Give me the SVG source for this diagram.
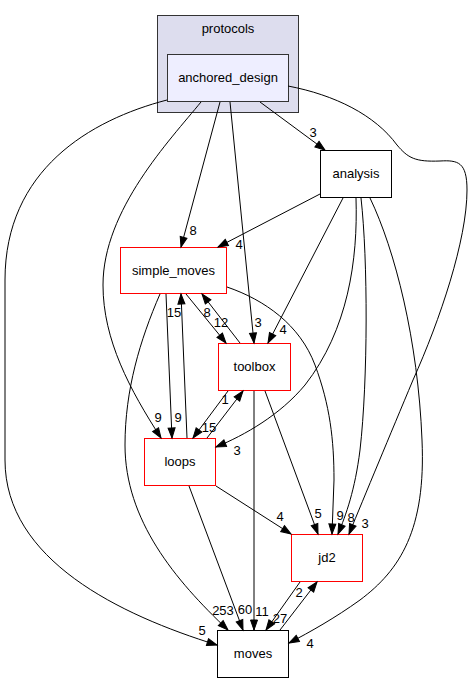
<svg xmlns="http://www.w3.org/2000/svg" width="473" height="684" viewBox="0 0 473 684">
<style>
text{font-family:"Liberation Sans",Arial,sans-serif;font-size:13px;fill:#000}
.n{text-anchor:middle}
.e path{fill:none;stroke:#000;stroke-width:1;marker-end:url(#ah)}
.red{fill:#fff;stroke:#ff0000;stroke-width:1}
.blk{fill:#fff;stroke:#000;stroke-width:1}
.lbl{text-anchor:middle}
</style>
<defs>
<marker id="ah" viewBox="0 0 10 7" refX="10" refY="3.5" markerWidth="10" markerHeight="7" markerUnits="userSpaceOnUse" orient="auto" overflow="visible">
<path d="M0,0L10,3.5L0,7z" fill="#000" stroke="#000" stroke-width="1"/>
</marker>
</defs>
<rect width="473" height="684" fill="#fff"/>
<g id="cluster_protocols">
<rect x="157.5" y="15.5" width="141" height="97" fill="#ddddee" stroke="#333"/>
<text class="n" x="228" y="33">protocols</text>
</g>
<g id="node_anchored_design">
<rect x="167.5" y="54.5" width="121" height="47" fill="#eeeeff" stroke="#333"/>
<text class="n" x="228" y="82">anchored_design</text>
</g>
<g id="node_analysis">
<rect class="blk" x="320.5" y="150.5" width="71" height="47"/>
<text class="n" x="356" y="178">analysis</text>
</g>
<g id="node_simple_moves">
<rect class="red" x="120.5" y="247.5" width="106" height="46"/>
<text class="n" x="173.5" y="275">simple_moves</text>
</g>
<g id="node_toolbox">
<rect class="red" x="218.5" y="343.5" width="72" height="47"/>
<text class="n" x="254.5" y="371">toolbox</text>
</g>
<g id="node_loops">
<rect class="red" x="144.5" y="438.5" width="71" height="47"/>
<text class="n" x="180" y="466">loops</text>
</g>
<g id="node_jd2">
<rect class="red" x="291.5" y="534.5" width="71" height="47"/>
<text class="n" x="327" y="562">jd2</text>
</g>
<g id="node_moves">
<rect class="blk" x="217.5" y="630.5" width="71" height="47"/>
<text class="n" x="253" y="658">moves</text>
</g>
<g id="edges" class="e">
<path d="M260,102L325,150"/>
<path d="M220,102L181,247"/>
<path d="M230,102L254,343"/>
<path d="M201,102C170,140 103,210 103,285C103,340 130,390 161,438"/>
<path d="M167,100C90,120 5,170 5,280L5,460C5,560 120,615 217,645"/>
<path d="M288,86C335,95 375,115 397,145C408,158 415,162 440,161C458,160 467,162 467,190C467,240 440,320 413,380C390,435 365,495 349,534"/>
<path d="M320,194L218,247"/>
<path d="M343,198L268,343"/>
<path d="M356,198C358,260 348,330 305,385C280,415 245,435 216,447"/>
<path d="M361,198C368,260 368,380 360,450C355,490 346,515 338,534"/>
<path d="M370,198C395,250 418,340 422,440C426,530 400,570 360,600C335,618 310,632 289,643"/>
<path d="M186,294L226,343"/>
<path d="M240,343L202,294"/>
<path d="M166,294L172,438"/>
<path d="M187,438L181,294"/>
<path d="M160,294C140,340 125,390 125,445C125,520 175,580 228,630"/>
<path d="M227,287C265,300 300,325 315,365C330,405 334,440 334,480L332,534"/>
<path d="M228,391L193,438"/>
<path d="M207,438L243,391"/>
<path d="M254,391L254,630"/>
<path d="M265,391L318,534"/>
<path d="M216,486L291,534"/>
<path d="M189,486L243,630"/>
<path d="M300,582L266,630"/>
<path d="M280,630L317,582"/>
</g>
<g id="edge_labels" class="lbl">
<text x="313" y="137">3</text>
<text x="193" y="235">8</text>
<text x="258" y="327">3</text>
<text x="158" y="422">9</text>
<text x="202" y="635">5</text>
<text x="365" y="528">3</text>
<text x="239" y="249">4</text>
<text x="283" y="334">4</text>
<text x="237" y="455">3</text>
<text x="351" y="522">8</text>
<text x="310" y="648">4</text>
<text x="221" y="327">12</text>
<text x="207" y="317">8</text>
<text x="178" y="422">9</text>
<text x="174" y="317">15</text>
<text x="223" y="615">253</text>
<text x="340" y="520">9</text>
<text x="209" y="432">15</text>
<text x="225" y="404">1</text>
<text x="262" y="616">11</text>
<text x="318" y="518">5</text>
<text x="280" y="521">4</text>
<text x="245" y="614">60</text>
<text x="299" y="597">2</text>
<text x="280" y="623">27</text>
</g>
</svg>
